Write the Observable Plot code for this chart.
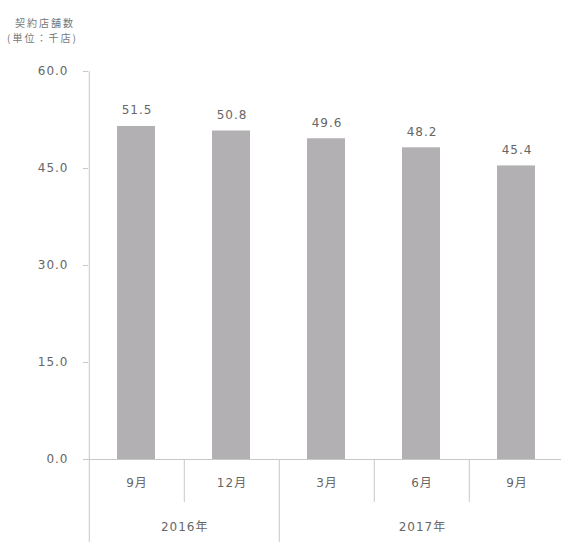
<!DOCTYPE html>
<html><head><meta charset="utf-8">
<script src="https://cdn.jsdelivr.net/npm/d3@7"></script>
<script src="https://cdn.jsdelivr.net/npm/@observablehq/plot@0.6"></script>
<style>
body{margin:0;background:#fff;overflow:hidden;}
#wrap{position:relative;width:561px;height:542px;}
#title{position:absolute;left:7px;top:15px;font-family:'Noto Sans CJK JP',sans-serif;font-size:10px;color:#777;line-height:15px;letter-spacing:2px;}
#title div{height:15px;overflow:visible;white-space:nowrap;}
</style></head><body>
<div id="wrap"><div id="title"><div style="padding-left:8px">契約店舗数</div><div>(単位：千店)</div></div></div>
<script>
const years = ["2016年", "2016年", "2017年", "2017年", "2017年"];
const months = ["9月", "12月", "3月", "6月", "9月"];
const values = [51.5, 50.8, 49.6, 48.2, 45.4];
const yTicks = [0, 15, 30, 45, 60];

const data = values.map((v, i) => ({key: years[i] + months[i], year: years[i], month: months[i], value: v}));
const keys = data.map(d => d.key);
const groups = [];
data.forEach(d => {
  const g = groups.find(g => g.year === d.year);
  if (g) g.count++; else groups.push({year: d.year, first: d.key, count: 1});
});
const monthSeps = data.filter((d, i) => i > 0 && d.year === data[i - 1].year).map(d => d.key);
const yearSeps = data.filter((d, i) => i > 0 && d.year !== data[i - 1].year).map(d => d.key);

const W = 561, H = 542, mL = 88, mR = -4, mT = 71, mB = 83;
const step = (W - mL - mR) / keys.length;
const txt = "#666", line = "#c8c8c8";

const plot = Plot.plot({
  width: W, height: H, marginLeft: mL, marginRight: mR, marginTop: mT, marginBottom: mB,
  style: {fontFamily: "'DejaVu Sans','Noto Sans CJK JP',sans-serif", fontSize: "12px", color: txt, background: "transparent", letterSpacing: "1px", overflow: "visible"},
  x: {type: "band", domain: keys, padding: 0, axis: null},
  y: {domain: [0, 60], axis: null},
  marks: [
    Plot.barY(data, {x: "key", y: "value", fill: "#b3b0b3", insetLeft: 28, insetRight: 29}),
    Plot.ruleY([0], {stroke: line}),
    Plot.ruleX([keys[0]], {dx: -step / 2, stroke: line, insetBottom: -mB}),
    Plot.ruleX(yearSeps, {dx: -step / 2, stroke: line, insetTop: H - mT - mB, insetBottom: -mB}),
    Plot.ruleX(monthSeps, {dx: -step / 2, stroke: line, insetTop: H - mT - mB, insetBottom: -43}),
    Plot.axisY({ticks: yTicks, tickFormat: d => d.toFixed(1), tickSize: 5, tickPadding: 15, stroke: line, fill: txt, label: null}),
    Plot.text(data, {x: "key", y: "value", text: d => d.value.toFixed(1), dy: -16, fill: txt}),
    Plot.text(data, {x: "key", text: "month", frameAnchor: "bottom", dy: 27, fill: txt}),
    ...groups.map(g => Plot.text([g], {x: "first", text: "year", frameAnchor: "bottom", dy: 71, dx: (g.count - 1) / 2 * step, fill: txt}))
  ]
});
document.getElementById("wrap").appendChild(plot);
plot.style.position = "absolute";
plot.style.left = "0";
plot.style.top = "0";
</script>
</body></html>
